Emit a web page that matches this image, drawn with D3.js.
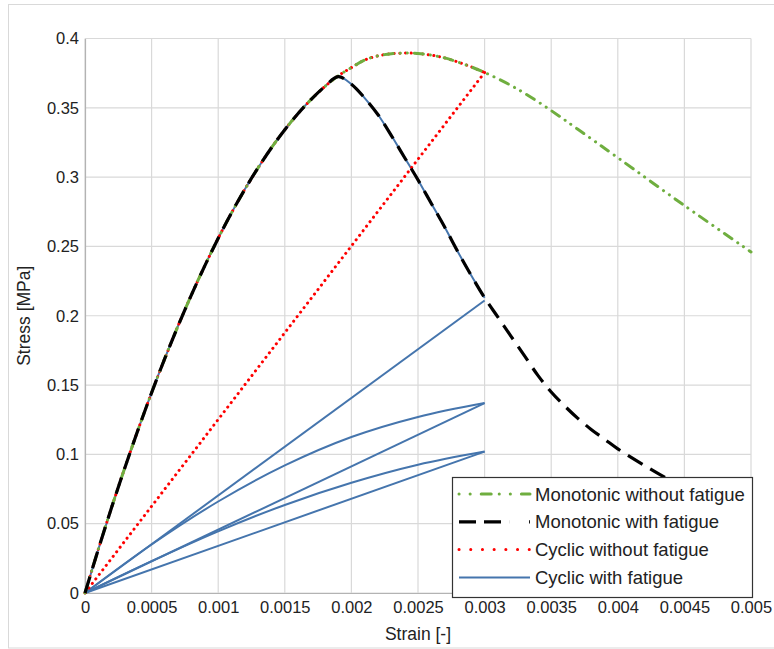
<!DOCTYPE html>
<html>
<head>
<meta charset="utf-8">
<script src="https://cdn.jsdelivr.net/npm/d3@7"></script>
<style>
  body { margin: 0; background: #fff; }
  svg text { font-family: "Liberation Sans", Arial, sans-serif; fill: #222; }
</style>
</head>
<body>
<div id="chart"></div>
<script>
// strain [-], stress [MPa]
const monoNoFatigue = [
  [0, 0], [0.0001, 0.0315], [0.0002, 0.0618], [0.0003, 0.0906], [0.0004, 0.1182],
  [0.0005, 0.1445], [0.0006, 0.1694], [0.0007, 0.193], [0.0008, 0.2153], [0.0009, 0.2362],
  [0.001, 0.2559], [0.0011, 0.2742], [0.0012, 0.2912], [0.0013, 0.3068], [0.0014, 0.3212],
  [0.0015, 0.3342], [0.0016, 0.3459], [0.0017, 0.3563], [0.0018, 0.3653], [0.0019, 0.373],
  [0.002, 0.379], [0.0021, 0.3845], [0.0022, 0.3875], [0.0023, 0.389], [0.0024, 0.3895],
  [0.0025, 0.3892], [0.0026, 0.388], [0.0027, 0.386], [0.0028, 0.383], [0.0029, 0.3795],
  [0.003, 0.3755], [0.0031, 0.371], [0.0032, 0.366], [0.0033, 0.3605], [0.0035, 0.348],
  [0.0037, 0.3345], [0.004, 0.314], [0.0045, 0.2795], [0.005, 0.246]
];
const monoFatigue = [
  [0, 0], [0.0001, 0.0315], [0.0002, 0.0618], [0.0003, 0.0906], [0.0004, 0.1182],
  [0.0005, 0.1445], [0.0006, 0.1694], [0.0007, 0.193], [0.0008, 0.2153], [0.0009, 0.2362],
  [0.001, 0.2559], [0.0011, 0.2742], [0.0012, 0.2912], [0.0013, 0.3068], [0.0014, 0.3212],
  [0.0015, 0.3342], [0.0016, 0.3459], [0.0017, 0.3563], [0.0018, 0.3653], [0.0019, 0.3725],
  [0.002, 0.367], [0.0021, 0.357], [0.0022, 0.345], [0.0023, 0.330], [0.0024, 0.314],
  [0.0025, 0.298], [0.0026, 0.281], [0.0027, 0.264], [0.0028, 0.246], [0.0029, 0.229],
  [0.003, 0.213], [0.0031, 0.199], [0.0032, 0.185], [0.0033, 0.171], [0.0034, 0.157],
  [0.0035, 0.145], [0.0036, 0.135], [0.0037, 0.126], [0.0038, 0.118], [0.0039, 0.111],
  [0.004, 0.104], [0.0042, 0.092], [0.0044, 0.081], [0.0046, 0.072], [0.0048, 0.064],
  [0.005, 0.057]
];
const unloadStrain = 0.003;
// cyclic with fatigue: reload branches after the unloadings
const reload1 = [[0, 0], [0.0005, 0.035], [0.001, 0.066], [0.0015, 0.092], [0.002, 0.1125], [0.0025, 0.127], [0.003, 0.137]];
const reload2 = [[0, 0], [0.0005, 0.023], [0.001, 0.0445], [0.0015, 0.0635], [0.002, 0.0795], [0.0025, 0.0925], [0.003, 0.102]];
const unloadPeaks = [0.211, 0.137, 0.102];

const xTicks = [0, 0.0005, 0.001, 0.0015, 0.002, 0.0025, 0.003, 0.0035, 0.004, 0.0045, 0.005];
const yTicks = [0, 0.05, 0.1, 0.15, 0.2, 0.25, 0.3, 0.35, 0.4];

const W = 774, H = 649;
const m = { left: 85, right: 23, top: 38.5, bottom: 56 };

const svg = d3.select("#chart").append("svg").attr("width", W).attr("height", H);

svg.append("rect").attr("x", 8.5).attr("y", 4.5).attr("width", 770).attr("height", 643.5)
  .attr("fill", "none").attr("stroke", "#d9d9d9");

const x = d3.scaleLinear().domain([0, 0.005]).range([m.left, W - m.right]);
const y = d3.scaleLinear().domain([0, 0.4]).range([H - m.bottom, m.top]);

// grid
svg.append("g").selectAll("line").data(xTicks).join("line")
  .attr("x1", d => x(d)).attr("x2", d => x(d)).attr("y1", y(0)).attr("y2", y(0.4))
  .attr("stroke", "#d9d9d9").attr("stroke-width", 1.2);
svg.append("g").selectAll("line").data(yTicks).join("line")
  .attr("x1", x(0)).attr("x2", x(0.005)).attr("y1", d => y(d)).attr("y2", d => y(d))
  .attr("stroke", "#d9d9d9").attr("stroke-width", 1.2);

// axes
const xAxis = svg.append("g").attr("transform", `translate(0,${y(0)})`)
  .call(d3.axisBottom(x).tickValues(xTicks).tickSize(0).tickPadding(8).tickFormat(d => String(+d.toFixed(4))));
const yAxis = svg.append("g").attr("transform", `translate(${x(0)},0)`)
  .call(d3.axisLeft(y).tickValues(yTicks).tickSize(0).tickPadding(6).tickFormat(d => String(+d.toFixed(2))));
[xAxis, yAxis].forEach(a => {
  a.select(".domain").attr("stroke", "#b3b3b3").attr("stroke-width", 1.2);
  a.selectAll("text").attr("font-size", 16.5).attr("fill", "#222")
    .attr("font-family", "'Liberation Sans', Arial, sans-serif");
});

svg.append("text").attr("x", 418).attr("y", 640).attr("text-anchor", "middle")
  .attr("font-size", 17.5).text("Strain [-]");
svg.append("text").attr("transform", `translate(30,${(y(0) + y(0.4)) / 2}) rotate(-90)`)
  .attr("text-anchor", "middle").attr("font-size", 17.5).text("Stress [MPa]");

const smooth = d3.line().x(d => x(d[0])).y(d => y(d[1])).curve(d3.curveCatmullRom.alpha(0.5));
const straight = d3.line().x(d => x(d[0])).y(d => y(d[1]));

const styles = {
  green: { stroke: "#6fae3f", width: 3, dash: "9 7 0.1 7 0.1 7", cap: "round" },
  black: { stroke: "#000", width: 3.2, dash: "17 9", cap: "butt" },
  red: { stroke: "#ff0000", width: 3, dash: "0.1 5.6", cap: "round" },
  blue: { stroke: "#4575ad", width: 2, dash: null, cap: "butt" }
};
function draw(d, gen, s) {
  svg.append("path").attr("d", gen(d)).attr("fill", "none")
    .attr("stroke", s.stroke).attr("stroke-width", s.width)
    .attr("stroke-dasharray", s.dash).attr("stroke-linecap", s.cap)
    .attr("stroke-linejoin", "round");
}

// cyclic with fatigue
draw(monoFatigue.filter(d => d[0] <= unloadStrain), smooth, styles.blue);
draw([[unloadStrain, unloadPeaks[0]], [0, 0]], straight, styles.blue);
draw(reload1, smooth, styles.blue);
draw([[unloadStrain, unloadPeaks[1]], [0, 0]], straight, styles.blue);
draw(reload2, smooth, styles.blue);
draw([[unloadStrain, unloadPeaks[2]], [0, 0]], straight, styles.blue);

// cyclic without fatigue
const envNoF = monoNoFatigue.filter(d => d[0] <= unloadStrain);
draw(envNoF, smooth, styles.red);
draw([envNoF[envNoF.length - 1], [0, 0]], straight, styles.red);

// monotonic
draw(monoNoFatigue, smooth, styles.green);
draw(monoFatigue, smooth, styles.black);

// legend
const legendItems = [
  { label: "Monotonic without fatigue", s: styles.green, dash: "0.1 11 0.1 11 10 8" },
  { label: "Monotonic with fatigue", s: styles.black, dash: "17 8 17 8 0.1 20" },
  { label: "Cyclic without fatigue", s: styles.red, dash: "0.1 11.6" },
  { label: "Cyclic with fatigue", s: styles.blue, dash: null }
];
const lg = svg.append("g");
lg.append("rect").attr("x", 452.5).attr("y", 477.5).attr("width", 300).attr("height", 120)
  .attr("fill", "#fff").attr("stroke", "#333").attr("stroke-width", 1.2);
legendItems.forEach((it, i) => {
  const cy = 494 + i * 27.8;
  lg.append("line").attr("x1", 459).attr("x2", 530).attr("y1", cy).attr("y2", cy)
    .attr("stroke", it.s.stroke).attr("stroke-width", it.s.width)
    .attr("stroke-dasharray", it.dash).attr("stroke-linecap", it.s.cap);
  lg.append("text").attr("x", 535).attr("y", cy).attr("dy", "0.36em")
    .attr("font-size", 18.5).text(it.label);
});
</script>
</body>
</html>
